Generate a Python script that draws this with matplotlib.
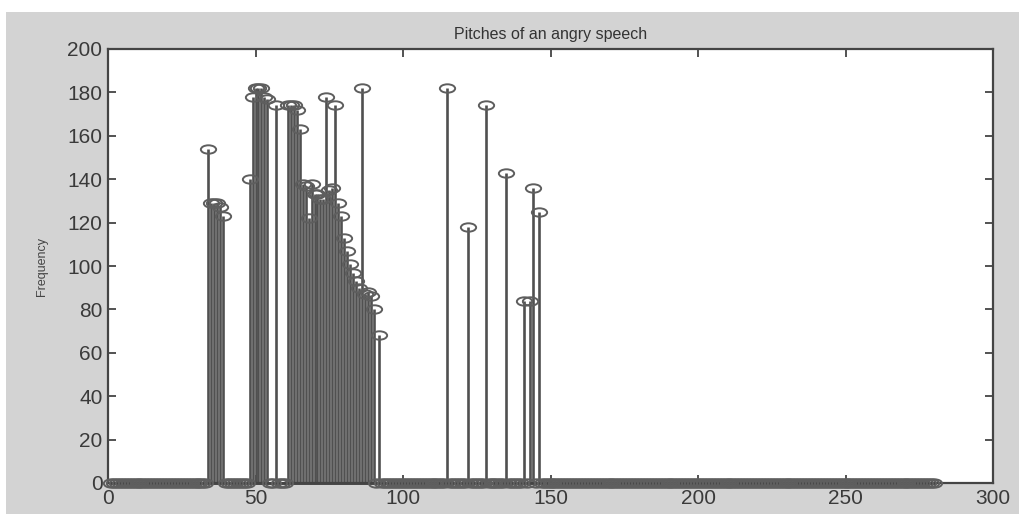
import numpy as np
import matplotlib
matplotlib.use("Agg")
import matplotlib.pyplot as plt
from matplotlib.path import Path
from matplotlib.patches import Rectangle

# ---- data ----
n_frames = 280
peak_frames = [34, 35, 36, 37, 38, 39,
               48, 49, 50, 51, 52, 53, 54, 57,
               61, 62, 63, 64, 65,
               66, 67, 68, 69, 70, 71, 72, 73, 74, 75, 76, 77, 78, 79, 80,
               81, 82, 83, 84, 85, 86, 87, 88, 89, 90, 92,
               115, 122, 128, 135, 141, 143, 144, 146]
peak_pitches = [154, 129, 129, 129, 127, 123,
                140, 178, 182, 182, 182, 178, 177, 174,
                174, 174, 174, 172, 163,
                138, 137, 122, 138, 133, 133, 131, 131, 178, 135, 136, 174, 129, 123, 113,
                107, 101, 97, 93, 90, 182, 87, 88, 86, 80, 68,
                182, 118, 174, 143, 84, 84, 136, 125]
x_ticks = [0, 50, 100, 150, 200, 250, 300]
y_ticks = [0, 20, 40, 60, 80, 100, 120, 140, 160, 180, 200]
title_text = "Pitches of an angry speech"
ylabel_text = "Frequency"

frames = np.arange(1, n_frames + 1)
pitch = np.zeros(n_frames)
for f, p in zip(peak_frames, peak_pitches):
    pitch[f - 1] = p

# ---- figure ----
W, H = 1019, 514
fig = plt.figure(figsize=(W / 100, H / 100), dpi=100, facecolor="white")
fig.patches.append(Rectangle((6 / W, 0), 1 - 6 / W, 1 - 12 / H,
                             transform=fig.transFigure, facecolor="#d3d3d3",
                             edgecolor="none", zorder=-10))

ax = fig.add_axes([108 / W, 1 - 483 / H, (993 - 108) / W, (483 - 49) / H])
ax.set_zorder(1)
ax.set_facecolor("white")

ell = Path.unit_circle()
ell = Path(ell.vertices * np.array([1.0, 0.55]), ell.codes)

markerline, stemlines, baseline = ax.stem(frames, pitch, basefmt=" ")
plt.setp(stemlines, color="#505050", linewidth=1.9)
plt.setp(markerline, marker=ell, markersize=11, markerfacecolor="none",
         markeredgecolor="#5e5e5e", markeredgewidth=1.4, linestyle="none",
         clip_on=False, zorder=3)
ax.plot([frames[0], frames[-1]], [0, 0], color="#3a3a3a", linewidth=2.0, zorder=2,
        clip_on=False)

ax.set_xlim(0, 300)
ax.set_ylim(0, 200)
ax.set_xticks(x_ticks)
ax.set_yticks(y_ticks)
ax.tick_params(direction="in", top=True, right=True, length=6, width=1.3,
               colors="#444444", labelsize=15, labelcolor="#3a3a3a", pad=4)
for lab in ax.get_xticklabels() + ax.get_yticklabels():
    lab.set_family("Liberation Sans")
for s in ax.spines.values():
    s.set_color("#444444")
    s.set_linewidth(1.6)

ax.set_title(title_text, fontsize=11.5, family="Liberation Sans", color="#333333", pad=7)
ax.set_ylabel(ylabel_text, fontsize=9, family="Liberation Sans", color="#444444", labelpad=14)

fig.savefig("out.png", dpi=100, facecolor=fig.get_facecolor())
